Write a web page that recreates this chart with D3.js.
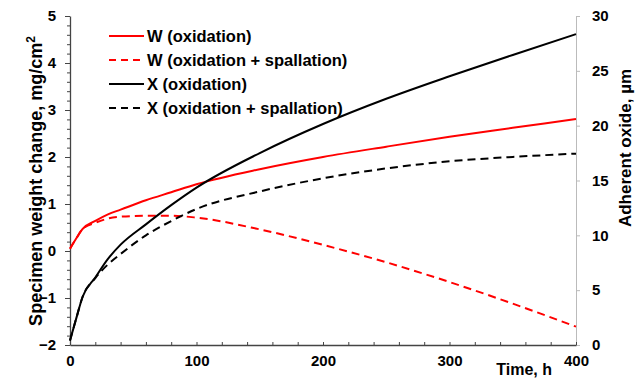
<!DOCTYPE html>
<html>
<head>
<meta charset="utf-8">
<script src="https://cdn.jsdelivr.net/npm/d3@7"></script>
<style>
  body { margin: 0; background: #fff; }
  svg text { font-family: "Liberation Sans", Arial, sans-serif; font-weight: bold; }
</style>
</head>
<body>
<div id="chart"></div>
<script>
// time in hours
var times = [0, 5, 10, 20, 30, 40, 60, 80, 100, 150, 200, 250, 300, 350, 400];

// weight change, mg/cm2 (left axis)
var wOx      = [0.05, 0.27, 0.47, 0.64, 0.78, 0.88, 1.08, 1.25, 1.42, 1.74, 2.0, 2.22, 2.43, 2.62, 2.81];
var wOxSpall = [0.05, 0.27, 0.47, 0.6, 0.69, 0.73, 0.75, 0.75, 0.71, 0.46, 0.13, -0.24, -0.66, -1.12, -1.61];

// adherent oxide, um (right axis)
var xOx      = [0.4, 2.45, 4.4, 6.15, 7.85, 9.15, 11.0, 12.75, 14.35, 17.5, 20.15, 22.45, 24.5, 26.45, 28.35];
var xOxSpall = [0.4, 2.45, 4.4, 6.1, 7.35, 8.3, 10.0, 11.3, 12.4, 14.0, 15.2, 16.1, 16.75, 17.15, 17.45];

var legendNames = ["W (oxidation)", "W (oxidation + spallation)", "X (oxidation)", "X (oxidation + spallation)"];

var width = 644, height = 379;
var padL = 70, padR = 576, padT = 16, padB = 345;

var svg = d3.select("#chart").append("svg")
    .attr("width", width)
    .attr("height", height);

var x = d3.scaleLinear().domain([0, 400]).range([padL, padR]);
var yL = d3.scaleLinear().domain([-2, 5]).range([padB, padT]);
var yR = d3.scaleLinear().domain([0, 30]).range([padB, padT]);

// left axis, minor then major
svg.append("g")
    .attr("transform", "translate(" + padL + ",0)")
    .call(d3.axisLeft(yL).tickValues(d3.range(-2, 5.01, 0.2)).tickSize(3).tickFormat(""))
    .call(g => g.select(".domain").remove())
    .selectAll("line").attr("stroke", "#444");

var gL = svg.append("g")
    .attr("transform", "translate(" + padL + ",0)")
    .call(d3.axisLeft(yL).tickValues(d3.range(-2, 6)).tickFormat(d3.format("d"))
        .tickSize(5).tickPadding(9).tickSizeOuter(0));
gL.select(".domain").attr("stroke", "#444").attr("stroke-width", 1.3);
gL.selectAll("line").attr("stroke", "#444");
gL.selectAll("text").style("font-size", "15px").attr("fill", "#000");

// right axis
var gR = svg.append("g")
    .attr("transform", "translate(" + padR + ",0)")
    .call(d3.axisRight(yR).tickValues(d3.range(0, 31, 5)).tickSize(4).tickPadding(12).tickSizeOuter(0));
gR.select(".domain").attr("stroke", "#bbb");
gR.selectAll("line").attr("stroke", "#bbb");
gR.selectAll("text").style("font-size", "15px").attr("fill", "#000");

// x axis
var gX = svg.append("g")
    .attr("transform", "translate(0," + padB + ")")
    .call(d3.axisBottom(x).tickValues(d3.range(0, 401, 20)).tickSize(-3).tickPadding(10).tickSizeOuter(0)
        .tickFormat(function(d) { return d % 100 == 0 ? d : ""; }));
gX.select(".domain").attr("stroke", "#444").attr("stroke-width", 1.3);
gX.selectAll("line").attr("stroke", "#444");
gX.selectAll("text").style("font-size", "15px").attr("fill", "#000");

// axis titles
var yTitle = svg.append("text")
    .attr("transform", "translate(42," + 181 + ") rotate(-90)")
    .attr("text-anchor", "middle")
    .style("font-size", "18px")
    .text("Specimen weight change, mg/cm");
yTitle.append("tspan").attr("dy", "-7").style("font-size", "12px").text("2");

svg.append("text")
    .attr("transform", "translate(631," + 148 + ") rotate(-90)")
    .attr("text-anchor", "middle")
    .style("font-size", "17px")
    .text("Adherent oxide, \u00b5m");

svg.append("text")
    .attr("x", 552)
    .attr("y", 375)
    .attr("text-anchor", "end")
    .style("font-size", "16px")
    .text("Time, h");

// lines
var lineL = d3.line()
    .x(function(d, i) { return x(times[i]); })
    .y(function(d) { return yL(d); })
    .curve(d3.curveMonotoneX);

var lineR = d3.line()
    .x(function(d, i) { return x(times[i]); })
    .y(function(d) { return yR(d); })
    .curve(d3.curveMonotoneX);

var series = [
    {data: wOx, line: lineL, color: "#ff0000", dash: null},
    {data: wOxSpall, line: lineL, color: "#ff0000", dash: "8,5"},
    {data: xOx, line: lineR, color: "#000", dash: null},
    {data: xOxSpall, line: lineR, color: "#000", dash: "8,5"}
];

series.forEach(function(s) {
    svg.append("path")
        .datum(s.data)
        .attr("d", s.line)
        .attr("fill", "none")
        .attr("stroke", s.color)
        .attr("stroke-width", 2)
        .attr("stroke-dasharray", s.dash);
});

// legend
var legend = svg.append("g");
series.forEach(function(s, i) {
    var yy = 36 + i * 24;
    legend.append("line")
        .attr("x1", 109).attr("x2", 144)
        .attr("y1", yy).attr("y2", yy)
        .attr("stroke", s.color)
        .attr("stroke-width", 2)
        .attr("stroke-dasharray", s.dash ? "7,5" : null);
    legend.append("text")
        .attr("x", 147)
        .attr("y", yy + 6)
        .style("font-size", "16.5px")
        .text(legendNames[i]);
});
</script>
</body>
</html>
